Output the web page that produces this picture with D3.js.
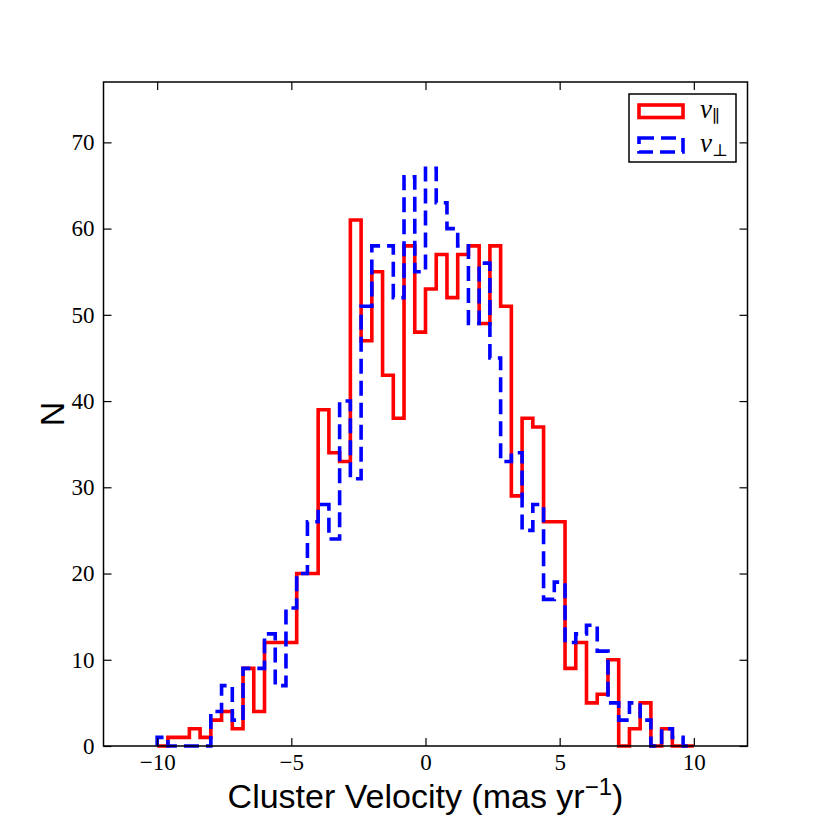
<!DOCTYPE html>
<html>
<head>
<meta charset="utf-8">
<script src="https://cdn.jsdelivr.net/npm/d3@7"></script>
<style>
  html, body { margin: 0; padding: 0; background: #fff; }
  svg { display: block; }
</style>
</head>
<body>
<svg id="chart" width="830" height="830"></svg>
<script>
// ---- data ----
const binEdges = [-10, -9.6, -9.2, -8.8, -8.4, -8, -7.6, -7.2, -6.8, -6.4, -6, -5.6, -5.2, -4.8, -4.4, -4,
  -3.6, -3.2, -2.8, -2.4, -2, -1.6, -1.2, -0.8, -0.4, 0, 0.4, 0.8, 1.2, 1.6, 2, 2.4, 2.8, 3.2, 3.6, 4,
  4.4, 4.8, 5.2, 5.6, 6, 6.4, 6.8, 7.2, 7.6, 8, 8.4, 8.8, 9.2, 9.6, 10];
const vPar = [0, 1, 1, 2, 1, 3, 4, 2, 9, 4, 12, 12, 12, 20, 20, 39, 34, 33, 61, 47, 55, 43, 38, 58, 48,
  53, 57, 52, 57, 58, 49, 58, 51, 29, 38, 37, 26, 26, 9, 12, 5, 6, 10, 0, 2, 5, 0, 2, 0, 0];
const vPerp = [1, 0, 0, 0, 0, 4, 7, 3, 9, 9, 13, 7, 16, 20, 26, 28, 24, 40, 31, 51, 58, 58, 52, 66, 55,
  67, 63, 60, 58, 49, 56, 45, 33, 34, 25, 28, 17, 19, 12, 13, 14, 11, 5, 3, 5, 3, 0, 2, 1, 0];
const xTicks = [-10, -5, 0, 5, 10];
const yTicks = [0, 10, 20, 30, 40, 50, 60, 70];
const xDomain = [-12, 12];
const yDomain = [0, 77];

// ---- layout ----
const L = 103.5, R = 747.5, T = 82, B = 746;
const svg = d3.select("#chart");
const x = d3.scaleLinear().domain(xDomain).range([L, R]);
const y = d3.scaleLinear().domain(yDomain).range([B, T]);

function stepPoints(vals) {
  const pts = [[binEdges[0], 0]];
  vals.forEach((v, i) => { pts.push([binEdges[i], v]); pts.push([binEdges[i + 1], v]); });
  pts.push([binEdges[binEdges.length - 1], 0]);
  return pts;
}
const line = d3.line().x(d => x(d[0])).y(d => y(d[1]));

svg.append("path").attr("d", line(stepPoints(vPar)))
  .attr("fill", "none").attr("stroke", "#ff0000").attr("stroke-width", 3.6)
  .attr("stroke-linejoin", "miter");
svg.append("path").attr("d", line(stepPoints(vPerp)))
  .attr("fill", "none").attr("stroke", "#0000ff").attr("stroke-width", 3.6)
  .attr("stroke-dasharray", "15,7").attr("stroke-linejoin", "miter");

// ---- frame ----
svg.append("rect").attr("x", L).attr("y", T).attr("width", R - L).attr("height", B - T)
  .attr("fill", "none").attr("stroke", "#000").attr("stroke-width", 1.5);

const tickLen = 8;
const serif = "'Liberation Serif', 'DejaVu Serif', serif";
// x ticks (bottom & top, inward)
const xAxisB = d3.axisBottom(x).tickValues(xTicks).tickSizeInner(-tickLen).tickSizeOuter(0)
  .tickPadding(8).tickFormat(d => d < 0 ? "\u2212" + Math.abs(d) : String(d));
const gxb = svg.append("g").attr("transform", `translate(0,${B})`).call(xAxisB);
const xAxisT = d3.axisTop(x).tickValues(xTicks).tickSizeInner(-tickLen).tickSizeOuter(0).tickFormat("");
const gxt = svg.append("g").attr("transform", `translate(0,${T})`).call(xAxisT);
// y ticks (left & right, inward)
const yAxisL = d3.axisLeft(y).tickValues(yTicks).tickSizeInner(-tickLen).tickSizeOuter(0)
  .tickPadding(9);
const gyl = svg.append("g").attr("transform", `translate(${L},0)`).call(yAxisL);
const yAxisR = d3.axisRight(y).tickValues(yTicks).tickSizeInner(-tickLen).tickSizeOuter(0).tickFormat("");
const gyr = svg.append("g").attr("transform", `translate(${R},0)`).call(yAxisR);

[gxb, gxt, gyl, gyr].forEach(g => {
  g.select(".domain").remove();
  g.selectAll(".tick line").attr("stroke", "#000").attr("stroke-width", 1.2);
  g.selectAll(".tick text").attr("font-family", serif).attr("font-size", 23).attr("fill", "#000");
});
gxb.selectAll(".tick text").attr("dy", "0.71em");

// ---- axis labels ----
const sans = "'Liberation Sans', Arial, Helvetica, sans-serif";
const xl = svg.append("text").attr("x", (L + R) / 2).attr("y", 808)
  .attr("text-anchor", "middle").attr("font-family", sans).attr("font-size", 34).attr("fill", "#000");
xl.append("tspan").text("Cluster Velocity (mas yr");
xl.append("tspan").attr("dy", -13).attr("font-size", 24).text("\u22121");
xl.append("tspan").attr("dy", 13).text(")");

svg.append("text").attr("transform", `translate(64,${(T + B) / 2}) rotate(-90)`)
  .attr("text-anchor", "middle").attr("font-family", sans).attr("font-size", 34).attr("fill", "#000")
  .text("N");

// ---- legend ----
const leg = svg.append("g");
leg.append("rect").attr("x", 629).attr("y", 94).attr("width", 107).attr("height", 68)
  .attr("fill", "#fff").attr("stroke", "#000").attr("stroke-width", 1.5);
leg.append("rect").attr("x", 639).attr("y", 105).attr("width", 44).attr("height", 12.5)
  .attr("fill", "none").attr("stroke", "#ff0000").attr("stroke-width", 3.6);
leg.append("rect").attr("x", 639).attr("y", 138).attr("width", 44).attr("height", 14)
  .attr("fill", "none").attr("stroke", "#0000ff").attr("stroke-width", 3.6)
  .attr("stroke-dasharray", "15,7");
const labels = [{ sub: "\u2225", y: 118 }, { sub: "\u22A5", y: 152 }];
labels.forEach(l => {
  const t = leg.append("text").attr("x", 700).attr("y", l.y)
    .attr("font-family", serif).attr("font-size", 27).attr("fill", "#000");
  t.append("tspan").attr("font-style", "italic").text("v");
  t.append("tspan").attr("font-size", 17).attr("dy", 4).text(l.sub);
});
</script>
</body>
</html>
